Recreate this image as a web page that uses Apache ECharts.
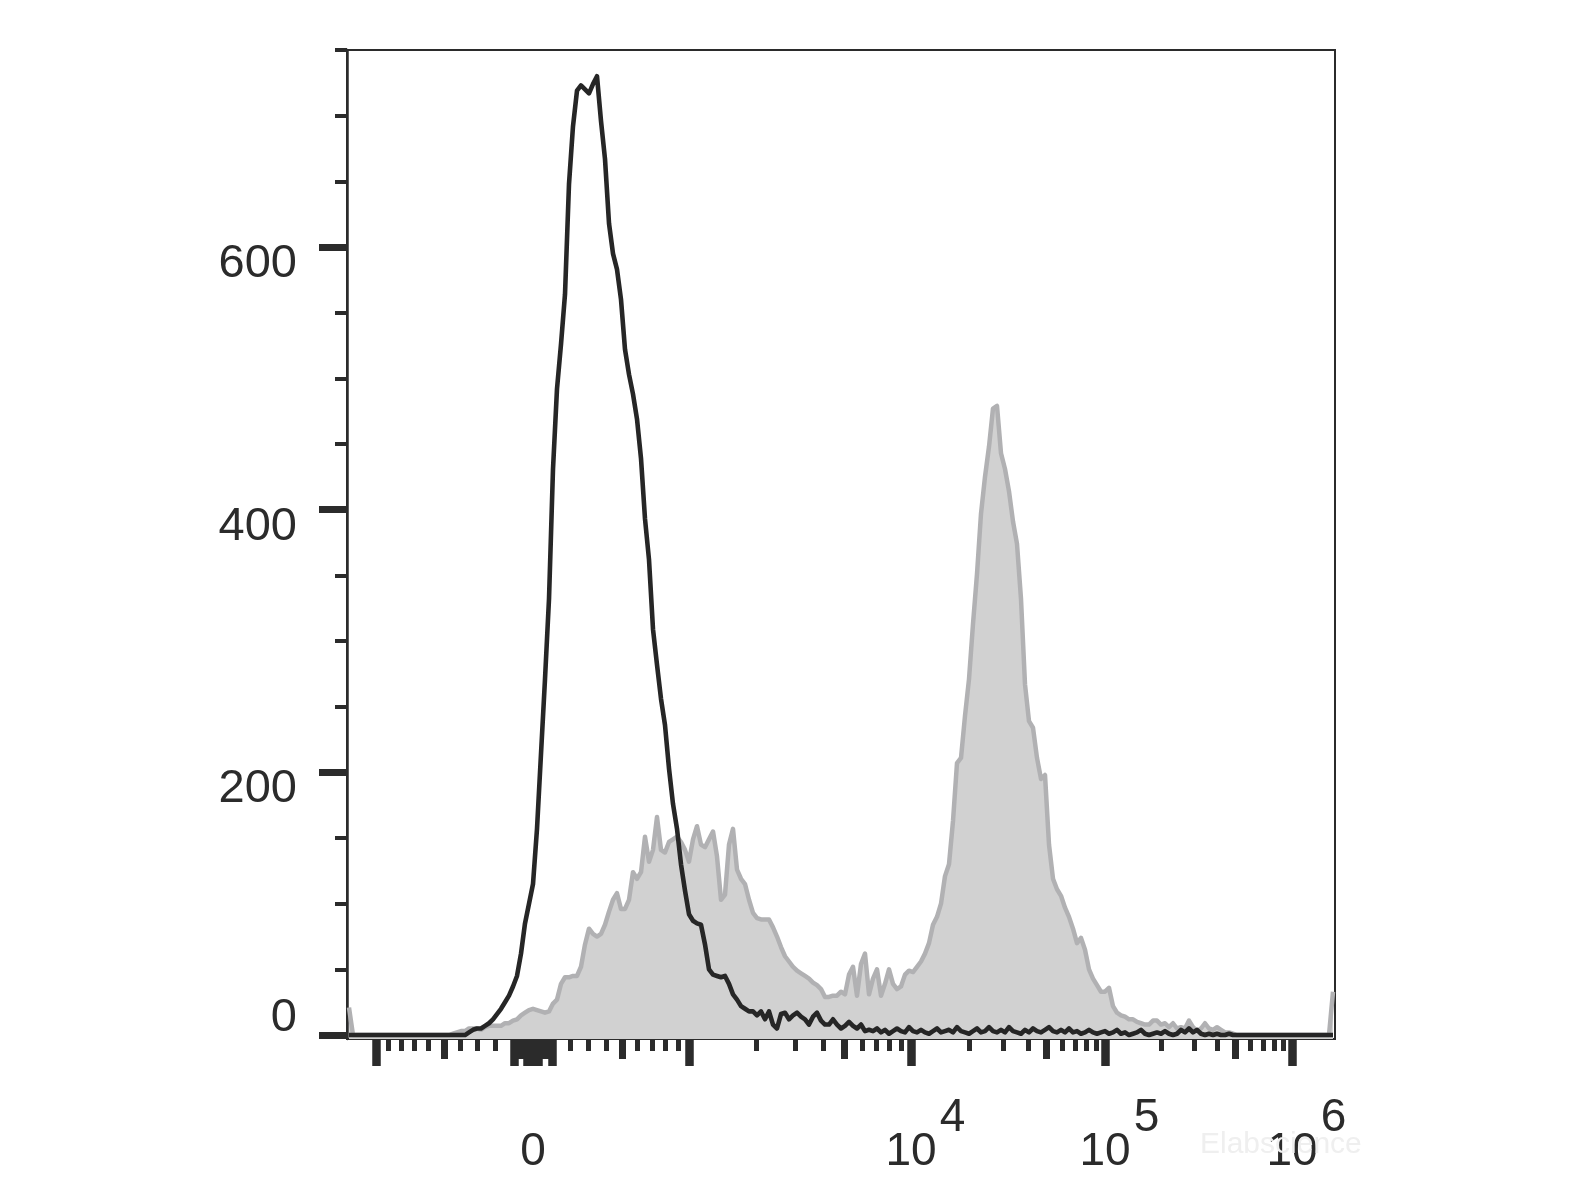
<!DOCTYPE html>
<html><head><meta charset="utf-8">
<script src="https://cdn.jsdelivr.net/npm/echarts@6/dist/echarts.min.js"></script>
<style>html,body{margin:0;padding:0;background:#fff}#c{width:1581px;height:1186px}</style>
</head><body><div id="c"></div>
<script>
// ---- histogram bins (display/scale units on the biexponential axis) ----
const BIN_START = -186;
const BIN_WIDTH = 4;
const X_AXIS_MIN = -186;
const X_AXIS_MAX = 802;
const Y_AXIS_MIN = -3;
const Y_AXIS_MAX = 750;

// unstained / control (black outline)
const BLACK_COUNTS = [
0,0,0,0,0,0,0,0,0,0,
0,0,0,0,0,0,0,0,0,0,
0,0,0,0,0,0,0,0,0,
0,2,4,5,5,7,9,12,16,20,
25,30,37,45,62,85,100,115,157,214,
271,332,431,492,526,564,648,692,719,723,
720,717,724,730,696,667,618,595,583,560,
522,503,488,469,439,393,362,309,282,256,
236,203,176,157,130,110,92,87,85,84,
69,50,46,45,44,45,39,31,27,22,
20,18,18,15,18,12,18,8,5,16,
17,12,15,17,14,12,8,14,17,11,
8,8,12,8,5,7,10,7,5,8,
3,4,
3,5,2,4,1,3,5,3,2,6,
3,2,4,2,1,3,5,2,3,4,
2,6,3,2,1,3,5,2,3,6,
3,2,4,2,6,3,2,1,4,2,
5,3,2,4,6,3,2,4,2,5,
2,3,1,2,4,2,1,2,3,1,
2,4,1,2,0,1,2,4,1,0,
1,2,1,3,1,0,1,4,2,5,
2,4,1,0,1,0,1,0,0,1,
0,
0,0,0,0,0,0,0,0,0,0,
0,0,0,0,0,0,0,0,0,0,
0,0,0,0,0
];

// stained sample (grey filled)
const GRAY_COUNTS = [
21,
0,0,0,0,0,0,0,0,0,0,
0,0,0,0,0,0,0,0,0,0,
0,0,0,0,0,
1,2,3,3,5,5,5,4,6,7,
7,7,7,9,9,11,12,15,17,19,
20,19,18,17,18,24,27,39,44,44,
45,45,52,69,81,77,75,77,84,94,
103,108,96,96,103,124,119,124,151,132,
141,166,141,139,147,149,151,147,141,132,
149,159,145,143,149,155,136,103,107,145,
157,126,119,115,103,93,89,88,88,88,
82,75,67,60,56,52,49,47,45,43,
40,38,35,29,29,30,30,33,31,46,
52,30,54,62,31,43,50,30,39,50,
39,35,37,46,49,48,52,56,62,70,
84,90,100,121,130,163,207,211,243,271,
313,351,397,425,448,477,479,443,431,414,
391,374,332,267,239,234,211,195,198,145,
119,111,106,97,90,81,70,74,65,50,
43,38,33,33,36,22,17,15,14,12,
12,10,9,8,8,11,11,8,9,6,
9,5,6,5,11,6,3,5,9,5,
4,6,4,2,2,1,
0,0,0,0,0,0,0,0,0,0,
0,0,0,0,0,0,0,0,0,0,
0,0,0,0,
33
];

// ---- axis ticks (fluorescence values) ----
const Y_MAJOR = [0, 200, 400, 600];
const Y_MINOR = [50, 100, 150, 250, 300, 350, 450, 500, 550, 650, 700, 750];
const X_MAJOR = [-1000, -100, -30, -20, -10, 0, 10, 20, 30, 100, 1000, 10000, 100000, 1000000];
const X_MID = [-500, -90, -80, -70, -60, -50, -40, 40, 50, 60, 70, 80, 90, 500, 5000, 50000, 500000];
const X_MINOR = [
  -900, -800, -700, -600, -400, -300, -200,
  200, 300, 400, 600, 700, 800, 900,
  2000, 3000, 4000, 6000, 7000, 8000, 9000,
  20000, 30000, 40000, 60000, 70000, 80000, 90000,
  200000, 300000, 400000, 600000, 700000, 800000, 900000
];
const X_LABEL_VALUES = [0, 10000, 100000, 1000000];
const X_LABEL_EXPONENTS = [null, 4, 5, 6];

// ---- biexponential axis calibration (fluorescence -> scale units) ----
const LIN_WIDTH = 750;
const LIN_GAIN = 142.5;
const DECADE_POS = [[3, LIN_GAIN * Math.asinh(1000 / LIN_WIDTH)], [4, 378], [5, 572], [6, 759]];
function toScale(v) {
  const a = Math.abs(v);
  let h;
  if (a <= 1000) {
    h = LIN_GAIN * Math.asinh(a / LIN_WIDTH);
  } else {
    const l = Math.log10(a);
    let k = 0;
    while (k < DECADE_POS.length - 2 && l > DECADE_POS[k + 1][0]) k++;
    const p0 = DECADE_POS[k], p1 = DECADE_POS[k + 1];
    h = p0[1] + (l - p0[0]) * (p1[1] - p0[1]) / (p1[0] - p0[0]);
  }
  return Math.sign(v) * h;
}

const INK = '#2b2b2b';
const FONT = '"Liberation Sans", Arial, sans-serif';

const blackData = BLACK_COUNTS.map((c, i) => [BIN_START + BIN_WIDTH * (i + 0.5), c]);
const grayData = GRAY_COUNTS.map((c, i) => [BIN_START + BIN_WIDTH * (i + 0.5), c]);

const labelPos = X_LABEL_VALUES.map(toScale);

function xAxisBase(ticks, len, width, extra) {
  return Object.assign({
    type: 'value', min: X_AXIS_MIN, max: X_AXIS_MAX, position: 'bottom', offset: 0,
    axisLine: { show: false, onZero: false },
    axisTick: { show: true, customValues: ticks.map(toScale), length: len,
      lineStyle: { color: INK, width: width } },
    axisLabel: { show: false },
    splitLine: { show: false }
  }, extra || {});
}

const chart = echarts.init(document.getElementById('c'), null, { renderer: 'canvas' });
chart.setOption({
  animation: false,
  backgroundColor: '#ffffff',
  grid: { left: 347, right: 246, top: 50, bottom: 147, show: true,
          borderColor: INK, borderWidth: 2, containLabel: false, outerBoundsMode: 'none' },
  xAxis: [
    xAxisBase(X_MAJOR, 27, 8.5, {
      axisLine: { show: true, onZero: false, lineStyle: { color: INK, width: 2 } },
      axisLabel: {
        show: true, customValues: labelPos, margin: 36, color: INK,
        formatter: function (val) {
          let idx = 0, best = Infinity;
          labelPos.forEach((p, k) => { const d = Math.abs(p - val); if (d < best) { best = d; idx = k; } });
          const e = X_LABEL_EXPONENTS[idx];
          if (e === null) return '{b|' + X_LABEL_VALUES[idx] + '}';
          return '{sp|}{b|10}{s|' + e + '}';
        },
        rich: {
          b: { fontSize: 46, fontFamily: FONT, color: INK, height: 50, padding: [52, 0, 0, 0] },
          s: { fontSize: 46, fontFamily: FONT, color: INK, height: 50, width: 26, padding: [0, 0, 16, 3] },
          sp: { width: 29, height: 10 }
        }
      }
    }),
    xAxisBase(X_MID, 20, 7),
    xAxisBase(X_MINOR, 12, 5)
  ],
  yAxis: [
    {
      type: 'value', min: Y_AXIS_MIN, max: Y_AXIS_MAX, position: 'left',
      axisLine: { show: true, onZero: false, lineStyle: { color: INK, width: 2.5 } },
      axisTick: { show: true, customValues: Y_MAJOR, length: 28, lineStyle: { color: INK, width: 7 } },
      axisLabel: {
        show: true, customValues: Y_MAJOR, margin: 50, color: INK,
        formatter: function (v) { return v === 0 ? '{z|0}' : '{n|' + v + '}'; },
        rich: {
          n: { fontSize: 47, fontFamily: FONT, color: INK, padding: [34, 0, 0, 0] },
          z: { fontSize: 47, fontFamily: FONT, color: INK, padding: [0, 0, 34, 0] }
        }
      },
      splitLine: { show: false }
    },
    {
      type: 'value', min: Y_AXIS_MIN, max: Y_AXIS_MAX, position: 'left', offset: 0,
      axisLine: { show: false, onZero: false },
      axisTick: { show: true, customValues: Y_MINOR, length: 12, lineStyle: { color: INK, width: 4 } },
      axisLabel: { show: false },
      splitLine: { show: false }
    }
  ],
  series: [
    {
      name: 'Stained', type: 'line', xAxisIndex: 0, yAxisIndex: 0, data: grayData,
      showSymbol: false, symbol: 'none', smooth: false,
      lineStyle: { color: '#b1b1b3', width: 4.5, join: 'round' },
      areaStyle: { color: '#d1d1d1', opacity: 1, origin: 'start' },
      z: 2
    },
    {
      name: 'Control', type: 'line', xAxisIndex: 0, yAxisIndex: 0, data: blackData,
      showSymbol: false, symbol: 'none', smooth: false,
      lineStyle: { color: '#262626', width: 4.6, join: 'round' },
      z: 3
    }
  ],
  graphic: [
    { type: 'text', left: 1200, top: 1130, z: 100,
      style: { text: 'Elabscience', font: '30px ' + FONT, fill: '#efefef' } }
  ]
});
</script>
</body></html>
